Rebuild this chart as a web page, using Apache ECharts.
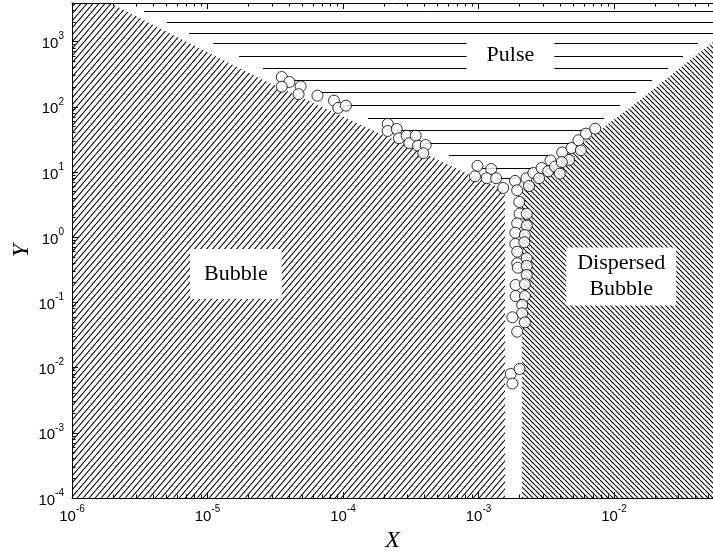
<!DOCTYPE html>
<html>
<head>
<meta charset="utf-8">
<script src="https://cdn.jsdelivr.net/npm/echarts@6/dist/echarts.min.js"></script>
<style>
  html, body { margin: 0; padding: 0; background: #fff; }
  #chart { width: 713px; height: 553px; }
</style>
</head>
<body>
<div id="chart"></div>
<script>
// Axis ranges
const X_MIN = 1e-6, X_MAX = 0.0538;
const Y_MIN = 1e-4, Y_MAX = 3900;

// Regime boundaries as [X, Y] vertices
const bubbleRegion = [
  [1e-6, 3900], [1.91e-6, 3900], [6.6e-6, 1058], [2.57e-5, 258], [1.13e-4, 62.8],
  [4.54e-4, 17.0], [8.65e-4, 9.0], [1.57e-3, 5.3], [1.57e-3, 1e-4], [1e-6, 1e-4]
];
const dispersedRegion = [
  [2.10e-3, 1e-4], [2.10e-3, 4.93], [2.28e-3, 7.03], [3.99e-3, 15.3], [7.89e-3, 44.1],
  [1.56e-2, 127], [3.07e-2, 394], [0.0538, 986], [0.0538, 1e-4]
];

// Pulse regime rulings: [X start, X end, Y]
const pulseRulings = [
  [3.40e-6, 0.0538, 2980], [5.02e-6, 0.0538, 2020], [7.30e-6, 0.0538, 1370],
  [1.10e-5, 4.17e-2, 942], [1.71e-5, 3.23e-2, 601], [2.57e-5, 2.50e-2, 398],
  [4.28e-5, 1.91e-2, 258], [6.77e-5, 1.45e-2, 167], [1.07e-4, 1.11e-2, 107],
  [1.53e-4, 8.44e-3, 68.1], [2.50e-4, 6.32e-3, 44.1], [4.03e-4, 4.74e-3, 28.1],
  [6.06e-4, 3.26e-3, 18.0], [1.03e-3, 2.52e-3, 11.6], [1.37e-3, 1.86e-3, 8.18]
];

// Measured transition points [X, Y]
const pointsUpper = [
  [3.53e-5, 286], [4.02e-5, 240], [3.53e-5, 203], [4.87e-5, 205], [4.70e-5, 156],
  [6.48e-5, 148], [8.58e-5, 124], [9.23e-5, 96], [1.05e-4, 104],
  [2.14e-4, 54.5], [2.14e-4, 42.5], [2.49e-4, 45.6], [2.59e-4, 32.9], [2.95e-4, 36.0],
  [3.09e-4, 27.6], [3.44e-4, 36.0], [3.58e-4, 25.3], [4.08e-4, 25.9], [3.91e-4, 19.4]
];
const pointsValley = [
  [9.83e-4, 12.4], [1.24e-3, 11.1], [9.42e-4, 8.59], [1.15e-3, 8.01], [1.35e-3, 8.01],
  [1.52e-3, 5.68], [1.86e-3, 7.28], [1.93e-3, 5.24]
];
const pointsColumn = [
  [2.00e-3, 3.47], [2.01e-3, 2.29], [2.27e-3, 2.29], [1.93e-3, 1.63], [2.27e-3, 1.50],
  [1.87e-3, 1.17], [2.20e-3, 1.08], [1.87e-3, 0.787], [2.18e-3, 0.835], [1.93e-3, 0.599],
  [2.27e-3, 0.475], [1.93e-3, 0.398], [1.95e-3, 0.340], [2.27e-3, 0.362], [2.27e-3, 0.263],
  [1.88e-3, 0.185], [2.20e-3, 0.190], [1.88e-3, 0.125], [2.20e-3, 0.125], [2.10e-3, 0.0912],
  [2.10e-3, 0.0681], [1.78e-3, 0.0591], [2.20e-3, 0.0495], [1.93e-3, 0.0355],
  [1.73e-3, 0.00798], [2.01e-3, 0.00952], [1.78e-3, 0.00570]
];
const pointsRight = [
  [2.26e-3, 8.01], [2.36e-3, 6.10], [2.54e-3, 9.65], [2.80e-3, 8.01], [2.92e-3, 11.5],
  [3.27e-3, 10.25], [3.40e-3, 15.0], [3.67e-3, 12.1], [3.98e-3, 9.42], [4.15e-3, 19.9],
  [4.67e-3, 15.3], [4.12e-3, 14.2], [4.86e-3, 23.3], [5.69e-3, 21.5], [5.47e-3, 30.6],
  [6.22e-3, 38.7], [7.27e-3, 46.1]
];

// Regime names and their anchor points
const regimeNames = ['Pulse', 'Bubble', 'Dispersed\nBubble'];
const regimeAnchors = [[1.72e-3, 612], [1.62e-5, 0.273], [1.13e-2, 0.249]];

// ---- drawing ----
const boxPadding = [[8, 20], [12, 14], [3, 11]];

function hatchTile(w, h, rising) {
  const c = document.createElement('canvas');
  c.width = w; c.height = h;
  const g = c.getContext('2d');
  g.strokeStyle = '#000';
  g.lineWidth = 1.1;
  g.beginPath();
  for (let k = -1; k <= 1; k++) {
    if (rising) { g.moveTo(k * w, h); g.lineTo(k * w + w, 0); }
    else { g.moveTo(k * w, 0); g.lineTo(k * w + w, h); }
  }
  g.stroke();
  return c;
}
const regions = [bubbleRegion, dispersedRegion];
const fills = [
  { image: hatchTile(6, 7, true), repeat: 'repeat' },
  { image: hatchTile(5, 5, false), repeat: 'repeat' }
];

function powerLabel(v) {
  const e = Math.log10(v);
  const r = Math.round(e);
  if (Math.abs(e - r) > 1e-6) return '';
  return '{b|10}{s|' + r + '}';
}
const labelRich = {
  b: { fontSize: 15, fontFamily: 'Liberation Sans', color: '#000', lineHeight: 20, verticalAlign: 'bottom' },
  s: { fontSize: 10, fontFamily: 'Liberation Sans', color: '#000', lineHeight: 20, verticalAlign: 'top' }
};

const axisBase = {
  type: 'log',
  logBase: 10,
  axisLine: { show: true, onZero: false, lineStyle: { color: '#000', width: 1 } },
  axisTick: { show: true, inside: true, length: 6, lineStyle: { color: '#000', width: 1 } },
  minorTick: { show: true, splitNumber: 9, length: 3.5, lineStyle: { color: '#000', width: 1 } },
  splitLine: { show: false },
  minorSplitLine: { show: false },
  z: 10
};

const pointStyle = { color: '#fff', borderColor: '#000', borderWidth: 1 };
function pointSeries(data) {
  return { type: 'scatter', data, symbol: 'circle', symbolSize: 11, itemStyle: pointStyle, z: 6, silent: true };
}

const chart = echarts.init(document.getElementById('chart'), null, { renderer: 'canvas' });
chart.setOption({
  animation: false,
  backgroundColor: '#fff',
  grid: { left: 72, right: 0, top: 3, bottom: 55, containLabel: false, outerBoundsMode: 'none' },
  xAxis: [
    Object.assign({}, axisBase, {
      position: 'bottom', min: X_MIN, max: X_MAX,
      name: 'X', nameLocation: 'middle', nameGap: 31, nameMoveOverlap: false,
      nameTextStyle: { fontFamily: 'Liberation Serif', fontStyle: 'italic', fontSize: 24, color: '#000' },
      axisLabel: { formatter: powerLabel, rich: labelRich, margin: 6, showMaxLabel: false, hideOverlap: false }
    }),
    Object.assign({}, axisBase, {
      position: 'top', min: X_MIN, max: X_MAX, axisLabel: { show: false }
    })
  ],
  yAxis: [
    Object.assign({}, axisBase, {
      position: 'left', min: Y_MIN, max: Y_MAX,
      name: 'Y', nameLocation: 'middle', nameGap: 38, nameMoveOverlap: false,
      nameTextStyle: { fontFamily: 'Liberation Serif', fontStyle: 'italic', fontSize: 24, color: '#000' },
      axisLabel: { formatter: powerLabel, rich: labelRich, margin: 8, showMaxLabel: false, hideOverlap: false }
    })
  ],
  series: [
    {
      type: 'custom',
      name: 'regions',
      clip: true,
      silent: true,
      z: 1,
      data: regions.map(r => r[0]),
      renderItem: function (params, api) {
        const poly = regions[params.dataIndex];
        return {
          type: 'polygon',
          shape: { points: poly.map(p => api.coord(p)) },
          style: { fill: fills[params.dataIndex], stroke: null }
        };
      }
    },
    {
      type: 'custom',
      name: 'pulse',
      clip: true,
      silent: true,
      z: 2,
      data: pulseRulings,
      encode: { x: [0, 1], y: 2 },
      renderItem: function (params, api) {
        const a = api.coord([api.value(0), api.value(2)]);
        const b = api.coord([api.value(1), api.value(2)]);
        const y = Math.round(a[1]) + 0.5;
        return {
          type: 'line',
          shape: { x1: a[0], y1: y, x2: b[0], y2: y },
          style: { stroke: '#000', lineWidth: 1 }
        };
      }
    },
    {
      type: 'custom',
      name: 'labels',
      silent: true,
      z: 4,
      data: regimeAnchors,
      renderItem: function (params, api) {
        const p = api.coord([api.value(0), api.value(1)]);
        return {
          type: 'text',
          x: p[0], y: p[1],
          style: {
            text: regimeNames[params.dataIndex],
            font: '22px "Liberation Serif"',
            fill: '#000',
            align: 'center',
            verticalAlign: 'middle',
            lineHeight: 26,
            backgroundColor: '#fff',
            padding: boxPadding[params.dataIndex]
          }
        };
      }
    },
    pointSeries(pointsUpper),
    pointSeries(pointsValley),
    pointSeries(pointsColumn),
    pointSeries(pointsRight)
  ]
});
</script>
</body>
</html>
